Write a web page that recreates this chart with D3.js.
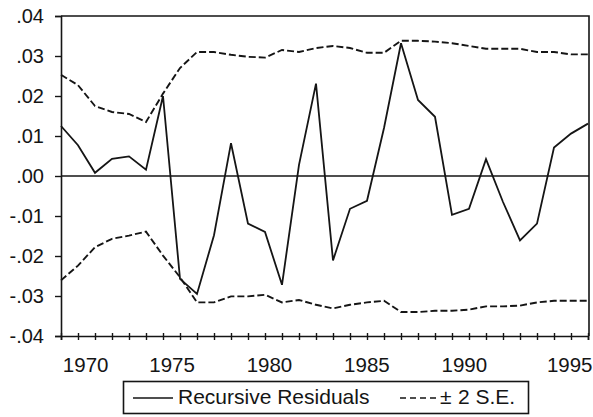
<!DOCTYPE html>
<html><head><meta charset="utf-8">
<script src="https://cdn.jsdelivr.net/npm/d3@7"></script>
<style>
body{margin:0;background:#fff;}
svg{display:block;font-family:"Liberation Sans",Arial,sans-serif;}
</style></head>
<body><svg id="c" width="593" height="417"></svg>
<script>
// ---- data ----
const obsIndex = d3.range(1, 33);
const residuals = [0.0125, 0.0077, 0.0008, 0.0043, 0.0049, 0.0016, 0.0200, -0.0257, -0.0295, -0.0148,
  0.0082, -0.0119, -0.0140, -0.0272, 0.0028, 0.0231, -0.0211, -0.0082, -0.0062, 0.0120,
  0.0332, 0.0190, 0.0148, -0.0097, -0.0082, 0.0042, -0.0065, -0.0161, -0.0119, 0.0071,
  0.0106, 0.0131];
const upperSE = [0.0253, 0.0227, 0.0175, 0.0160, 0.0155, 0.0135, 0.0206, 0.0270, 0.0310, 0.0310,
  0.0303, 0.0298, 0.0296, 0.0315, 0.0310, 0.0320, 0.0325, 0.0320, 0.0308, 0.0308,
  0.0338, 0.0338, 0.0336, 0.0332, 0.0325, 0.0318, 0.0318, 0.0318, 0.0310, 0.0310,
  0.0304, 0.0304];
const lowerSE = [-0.0261, -0.0224, -0.0178, -0.0157, -0.0149, -0.0139, -0.0199, -0.0253, -0.0316, -0.0316,
  -0.0301, -0.0301, -0.0297, -0.0316, -0.0310, -0.0322, -0.0331, -0.0322, -0.0316, -0.0312,
  -0.0340, -0.0340, -0.0337, -0.0337, -0.0334, -0.0326, -0.0326, -0.0324, -0.0316, -0.0312,
  -0.0312, -0.0312];
const yTicks = [0.04, 0.03, 0.02, 0.01, 0.00, -0.01, -0.02, -0.03, -0.04];
const yTickLabels = [".04", ".03", ".02", ".01", ".00", "-.01", "-.02", "-.03", "-.04"];
const xTickYears = [1970, 1975, 1980, 1985, 1990, 1995];
const legendLabels = ["Recursive Residuals", "\u00b1", "2 S.E."];

// ---- layout ----
const L = 61, R = 589, T = 16, B = 336;
const ink = "#151515";
const svg = d3.select("#c");

const x = d3.scaleLinear().domain([1, 32]).range([L, R - 1]);
const xYear = d3.scaleLinear().domain([1969.3, 1996.4]).range([L, R]);
const y = d3.scaleLinear().domain([-0.04, 0.04]).range([B, T]);

// frame top & right
svg.append("path").attr("d", `M${L},${T}H${R}V${B}`).attr("fill", "none")
  .attr("stroke", ink).attr("stroke-width", 1.6);

// y axis
const yAxis = d3.axisLeft(y).tickValues(yTicks).tickSize(6)
  .tickFormat((d, i) => yTickLabels[i]);
const gy = svg.append("g").attr("transform", `translate(${L},0)`).call(yAxis);
gy.select(".domain").attr("stroke", ink).attr("stroke-width", 1.6);
gy.selectAll(".tick line").attr("stroke", ink).attr("stroke-width", 1.4);
gy.selectAll(".tick text").attr("x", -17).attr("fill", ink)
  .style("font-size", "20px").style("font-family", "Liberation Sans, Arial, sans-serif");

// x axis (cross ticks at every observation)
const xAxis = d3.axisBottom(x).tickValues(obsIndex).tickSize(4).tickFormat("");
const gx = svg.append("g").attr("transform", `translate(0,${B})`).call(xAxis);
gx.select(".domain").attr("stroke", ink).attr("stroke-width", 1.6);
gx.selectAll(".tick line").attr("y1", -3).attr("y2", 4).attr("stroke", ink).attr("stroke-width", 1.4);

// x labels
const labelShift = {1970: 11, 1995: 8};
svg.append("g").selectAll("text").data(xTickYears).join("text")
  .attr("x", d => xYear(d) + (labelShift[d] || 0))
  .attr("y", 372).attr("text-anchor", "middle")
  .attr("fill", ink).style("font-size", "20.5px")
  .text(d => d);

// zero line
svg.append("line").attr("x1", L).attr("x2", R).attr("y1", y(0)).attr("y2", y(0))
  .attr("stroke", ink).attr("stroke-width", 1.4);

// lines
const line = d3.line().x((d, i) => x(obsIndex[i])).y(d => y(d));
svg.append("path").datum(upperSE).attr("d", line).attr("fill", "none")
  .attr("stroke", ink).attr("stroke-width", 1.9).attr("stroke-dasharray", "7,3");
svg.append("path").datum(lowerSE).attr("d", line).attr("fill", "none")
  .attr("stroke", ink).attr("stroke-width", 1.9).attr("stroke-dasharray", "7,3");
svg.append("path").datum(residuals).attr("d", line).attr("fill", "none")
  .attr("stroke", ink).attr("stroke-width", 1.8).attr("stroke-linejoin", "miter");

// legend
const lg = svg.append("g");
lg.append("rect").attr("x", 123.5).attr("y", 381.5).attr("width", 405).attr("height", 32)
  .attr("fill", "#fff").attr("stroke", ink).attr("stroke-width", 1.6);
lg.append("line").attr("x1", 133).attr("x2", 173).attr("y1", 398).attr("y2", 398)
  .attr("stroke", ink).attr("stroke-width", 1.6);
lg.append("text").attr("x", 178).attr("y", 404).attr("fill", ink).style("font-size", "21px")
  .text(legendLabels[0]);
lg.append("line").attr("x1", 400).attr("x2", 437).attr("y1", 398).attr("y2", 398)
  .attr("stroke", ink).attr("stroke-width", 1.6).attr("stroke-dasharray", "6,4");
const t2 = lg.append("text").attr("y", 404).attr("fill", ink).style("font-size", "21px");
t2.append("tspan").attr("x", 440).text(legendLabels[1]);
t2.append("tspan").attr("x", 458).text(legendLabels[2]);
</script></body></html>
